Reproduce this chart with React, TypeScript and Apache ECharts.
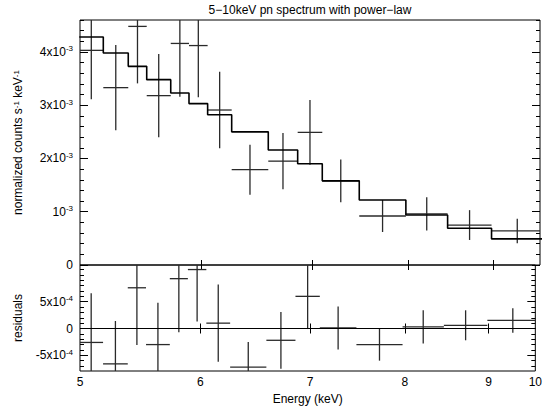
import React, { useEffect, useRef } from "react";
import * as echarts from "echarts";

// ---------- data ----------
// Energy bin edges (keV)
const binEdges = [5.06, 5.232, 5.417, 5.558, 5.747, 5.895, 6.05, 6.256, 6.583, 6.858, 7.097, 7.472, 7.973, 8.45, 8.983, 9.65];
// normalized counts s^-1 keV^-1
const observed = [4.03e-3, 3.33e-3, 4.48e-3, 3.18e-3, 4.16e-3, 4.12e-3, 2.91e-3, 1.79e-3, 1.95e-3, 2.49e-3, 1.58e-3, 0.92e-3, 0.96e-3, 0.75e-3, 0.64e-3];
const errors = [0.92e-3, 0.8e-3, 1.07e-3, 0.78e-3, 1.0e-3, 0.97e-3, 0.72e-3, 0.47e-3, 0.53e-3, 0.61e-3, 0.4e-3, 0.3e-3, 0.31e-3, 0.28e-3, 0.23e-3];
const model = [4.28e-3, 3.98e-3, 3.73e-3, 3.48e-3, 3.23e-3, 3.03e-3, 2.82e-3, 2.5e-3, 2.16e-3, 1.9e-3, 1.58e-3, 1.22e-3, 0.94e-3, 0.69e-3, 0.49e-3];
const residuals = [-0.26e-3, -0.66e-3, 0.76e-3, -0.3e-3, 0.93e-3, 1.1e-3, 0.1e-3, -0.72e-3, -0.22e-3, 0.6e-3, 0.01e-3, -0.3e-3, 0.03e-3, 0.06e-3, 0.15e-3];

// axes
const xRange = [5.065, 9.61];
const xTickValues = [6, 7, 8, 9];
const xEdgeLabels = ["5", "10"];
const topYRange = [0, 4.6e-3];
const topYTicks = [0, 1e-3, 2e-3, 3e-3, 4e-3];
const topYLabels = ["0", "10^-3", "2x10^-3", "3x10^-3", "4x10^-3"];
const topYMinorStep = 2e-4;
const resYRange = [-7.93e-4, 1.185e-3];
const resYTicks = [-5e-4, 0, 5e-4];
const resYLabels = ["-5x10^-4", "0", "5x10^-4"];
const resYMinorStep = 1e-4;

const titleText = "5\u221210keV pn spectrum with power\u2212law";
const xName = "Energy (keV)";
const topYName = "{b|normalized counts s}{s|-1}{b| keV}{s|-1}";
const resYName = "residuals";

const FONT = "'Liberation Sans', Arial, Helvetica, sans-serif";

function supLabel(text: string) {
  const [base, sup] = text.split("^");
  return sup ? `{b|${base}}{s|${sup}}` : `{b|${base}}`;
}

const rich = {
  b: { fontSize: 12, fontFamily: FONT, color: "#000", lineHeight: 14 },
  s: { fontSize: 8, fontFamily: FONT, color: "#000", lineHeight: 8, verticalAlign: "top" },
};

function minorValues(range: number[], step: number) {
  const out: number[] = [];
  const start = Math.ceil(range[0] / step - 1e-6);
  const end = Math.floor(range[1] / step + 1e-6);
  for (let i = start; i <= end; i++) out.push(i * step);
  return out;
}

export default function App() {
  const ref = useRef<HTMLDivElement>(null);
  useEffect(() => {
    const chart = echarts.init(ref.current!, null, { renderer: "svg" });
    const lnMin = Math.log(xRange[0]);
    const lnMax = Math.log(xRange[1]);
    const lnTicks = xTickValues.map((v) => Math.log(v));

    const xAx = (grid: number, position: string, withLabels: boolean) => ({
      type: "value",
      gridIndex: grid,
      position,
      min: lnMin,
      max: lnMax,
      axisLine: { show: false },
      splitLine: { show: false },
      axisTick: {
        show: true,
        inside: true,
        length: 5,
        customValues: lnTicks,
        lineStyle: { color: "#000", width: 1 },
      },
      axisLabel: withLabels
        ? {
            show: true,
            customValues: [lnMin, ...lnTicks, lnMax],
            showMinLabel: true,
            showMaxLabel: true,
            margin: 5,
            fontSize: 12,
            fontFamily: FONT,
            color: "#000",
            formatter: (v: number) => {
              if (Math.abs(v - lnMin) < 1e-9) return xEdgeLabels[0];
              if (Math.abs(v - lnMax) < 1e-9) return xEdgeLabels[1];
              return String(Math.round(Math.exp(v)));
            },
          }
        : { show: false },
      name: withLabels ? xName : "",
      nameLocation: "middle",
      nameGap: 22,
      nameTextStyle: { fontSize: 12, fontFamily: FONT, color: "#000" },
    });

    const yAx = (
      grid: number,
      position: string,
      range: number[],
      values: number[],
      length: number,
      labels: string[] | null,
      ticks: number[],
      name: string,
      nameRich: boolean
    ) => ({
      type: "value",
      gridIndex: grid,
      position,
      min: range[0],
      max: range[1],
      axisLine: { show: false },
      splitLine: { show: false },
      axisTick: {
        show: true,
        inside: true,
        length,
        customValues: values,
        lineStyle: { color: "#000", width: 1 },
      },
      axisLabel: labels
        ? {
            show: true,
            customValues: ticks,
            margin: 7,
            rich,
            formatter: (v: number) => {
              const i = ticks.findIndex((t) => Math.abs(t - v) < 1e-9);
              return i >= 0 ? supLabel(labels[i]) : "";
            },
          }
        : { show: false },
      name,
      nameLocation: "middle",
      nameGap: 56,
      nameTextStyle: nameRich
        ? { rich: { b: { fontSize: 12, fontFamily: FONT, color: "#000" }, s: { fontSize: 8, fontFamily: FONT, color: "#000", verticalAlign: "top", lineHeight: 8 } } }
        : { fontSize: 12, fontFamily: FONT, color: "#000" },
    });

    const topMinor = minorValues(topYRange, topYMinorStep);
    const resMinor = minorValues(resYRange, resYMinorStep);

    const bins = observed.map((_, i) => [Math.log(binEdges[i]), Math.log(binEdges[i + 1])]);
    const modelSteps: number[][] = [];
    model.forEach((m, i) => {
      modelSteps.push([bins[i][0], m]);
      modelSteps.push([bins[i][1], m]);
    });

    const crossRender = (params: any, api: any) => {
      const lo = api.value(0);
      const hi = api.value(1);
      const y = api.value(2);
      const e = api.value(3);
      const xc = (lo + hi) / 2;
      const pL = api.coord([lo, y]);
      const pR = api.coord([hi, y]);
      const pT = api.coord([xc, y + e]);
      const pB = api.coord([xc, y - e]);
      const style = { stroke: "#2a2a2a", lineWidth: 1.3 };
      return {
        type: "group",
        children: [
          { type: "line", shape: { x1: pL[0], y1: pL[1], x2: pR[0], y2: pR[1] }, style },
          { type: "line", shape: { x1: pT[0], y1: pT[1], x2: pB[0], y2: pB[1] }, style },
        ],
      };
    };

    const option: any = {
      animation: false,
      backgroundColor: "#fff",
      textStyle: { fontFamily: FONT },
      graphic: [
        {
          type: "text",
          x: 310,
          y: 10,
          style: { text: titleText, fontSize: 12, fontFamily: FONT, fill: "#000", textAlign: "center", textVerticalAlign: "middle" },
        },
      ],
      grid: [
        { left: 80, top: 20, width: 460, height: 245, show: true, borderColor: "#000", borderWidth: 1, backgroundColor: "transparent" },
        { left: 80, top: 265, width: 460, height: 106, show: true, borderColor: "#000", borderWidth: 1, backgroundColor: "transparent" },
      ],
      xAxis: [xAx(0, "bottom", false), xAx(0, "top", false), xAx(1, "bottom", true), xAx(1, "top", false)],
      yAxis: [
        yAx(0, "left", topYRange, topYTicks, 8, topYLabels, topYTicks, topYName, true),
        yAx(0, "left", topYRange, topMinor, 4, null, topYTicks, "", false),
        yAx(0, "right", topYRange, topYTicks, 8, null, topYTicks, "", false),
        yAx(0, "right", topYRange, topMinor, 4, null, topYTicks, "", false),
        yAx(1, "left", resYRange, resYTicks, 8, resYLabels, resYTicks, resYName, false),
        yAx(1, "left", resYRange, resMinor, 4, null, resYTicks, "", false),
        yAx(1, "right", resYRange, resYTicks, 8, null, resYTicks, "", false),
        yAx(1, "right", resYRange, resMinor, 4, null, resYTicks, "", false),
      ],
      series: [
        {
          name: "model",
          type: "line",
          xAxisIndex: 0,
          yAxisIndex: 0,
          data: modelSteps,
          symbol: "none",
          clip: true,
          lineStyle: { color: "#000", width: 1.6 },
          z: 3,
        },
        {
          name: "data",
          type: "custom",
          xAxisIndex: 0,
          yAxisIndex: 0,
          clip: true,
          renderItem: crossRender,
          encode: { x: [0, 1], y: 2 },
          data: observed.map((v, i) => [bins[i][0], bins[i][1], v, errors[i]]),
          z: 2,
        },
        {
          name: "zero",
          type: "line",
          xAxisIndex: 2,
          yAxisIndex: 4,
          data: [
            [lnMin, 0],
            [lnMax, 0],
          ],
          symbol: "none",
          lineStyle: { color: "#000", width: 1 },
          z: 3,
        },
        {
          name: "residuals",
          type: "custom",
          xAxisIndex: 2,
          yAxisIndex: 4,
          clip: true,
          renderItem: crossRender,
          encode: { x: [0, 1], y: 2 },
          data: residuals.map((v, i) => [bins[i][0], bins[i][1], v, errors[i]]),
          z: 2,
        },
      ],
    };
    chart.setOption(option);
    return () => chart.dispose();
  }, []);
  return (
    <div
      ref={ref}
      style={{ position: "fixed", left: 0, top: 0, width: 545, height: 408, background: "#fff" }}
    />
  );
}
